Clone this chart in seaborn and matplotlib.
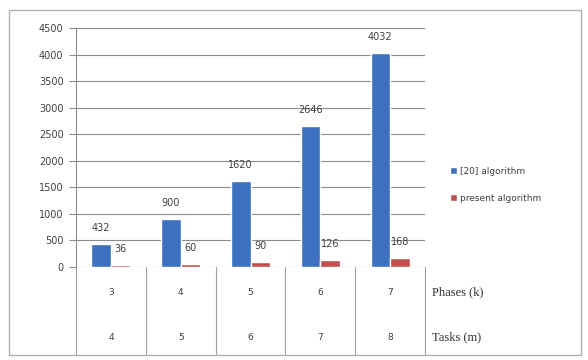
import numpy as np
import pandas as pd
import matplotlib
matplotlib.use("Agg")
import matplotlib.pyplot as plt
import seaborn as sns
from matplotlib.patches import Rectangle

phases = ["3", "4", "5", "6", "7"]
tasks = ["4", "5", "6", "7", "8"]
ref_algo = [432, 900, 1620, 2646, 4032]
present_algo = [36, 60, 90, 126, 168]
series_names = ["[20] algorithm", "present algorithm"]
y_ticks = [0, 500, 1000, 1500, 2000, 2500, 3000, 3500, 4000, 4500]

df = pd.DataFrame({
    "phase": phases * 2,
    "value": ref_algo + present_algo,
    "series": [series_names[0]] * len(phases) + [series_names[1]] * len(phases),
})

sns.set_style("white")
plt.rcParams["font.family"] = ["DejaVu Sans"]

fig = plt.figure(figsize=(5.88, 3.6), dpi=100)
ax = fig.add_axes([76 / 588, 93 / 360, 349 / 588, 239 / 360])

sns.barplot(data=df, x="phase", y="value", hue="series", order=phases,
            palette=["#3D70BF", "#C0504D"], width=0.56, saturation=1,
            ax=ax, legend=True)

for cont in ax.containers:
    ax.bar_label(cont, padding=8, fontsize=7, color="#404040")

ax.set_ylim(0, 4500)
ax.set_yticks(y_ticks)
ax.set_yticklabels([str(t) for t in y_ticks], fontsize=7, color="#404040")
ax.set_xlim(-0.5, 4.5)
ax.yaxis.grid(True, color="#8c8c8c", linewidth=0.8)
ax.set_axisbelow(True)
ax.tick_params(axis="y", length=5, color="#8c8c8c", pad=4, left=True)
ax.tick_params(axis="x", bottom=False, labelbottom=False)
ax.set_xlabel("")
ax.set_ylabel("")
for s in ["top", "right", "bottom"]:
    ax.spines[s].set_visible(False)
ax.spines["left"].set_color("#8c8c8c")

# category table below the axis
trans = ax.get_xaxis_transform()
for i in range(len(phases) + 1):
    ax.plot([i - 0.5, i - 0.5], [0, -0.368], transform=trans, color="#a0a0a0",
            linewidth=0.8, clip_on=False)
for i, (p, t) in enumerate(zip(phases, tasks)):
    ax.text(i, -0.105, p, transform=trans, ha="center", va="center",
            fontsize=6.5, color="#404040")
    ax.text(i, -0.293, t, transform=trans, ha="center", va="center",
            fontsize=6.5, color="#404040")
ax.text(4.6, -0.105, "Phases (k)", transform=trans, ha="left", va="center",
        fontsize=9, family="Liberation Serif", color="#303030")
ax.text(4.6, -0.293, "Tasks (m)", transform=trans, ha="left", va="center",
        fontsize=9, family="Liberation Serif", color="#303030")

leg = ax.legend(loc="center left", bbox_to_anchor=(442 / 588, 175 / 360),
                bbox_transform=fig.transFigure, frameon=False, fontsize=6.5,
                handlelength=0.8, handleheight=0.8, handletextpad=0.3,
                labelspacing=2.0)
for txt in leg.get_texts():
    txt.set_color("#404040")

fig.patches.append(Rectangle((9 / 588, 5 / 360), 572 / 588, 345 / 360,
                             transform=fig.transFigure, fill=False,
                             edgecolor="#b0b0b0", linewidth=1.0))

fig.savefig("out.png", dpi=100)
